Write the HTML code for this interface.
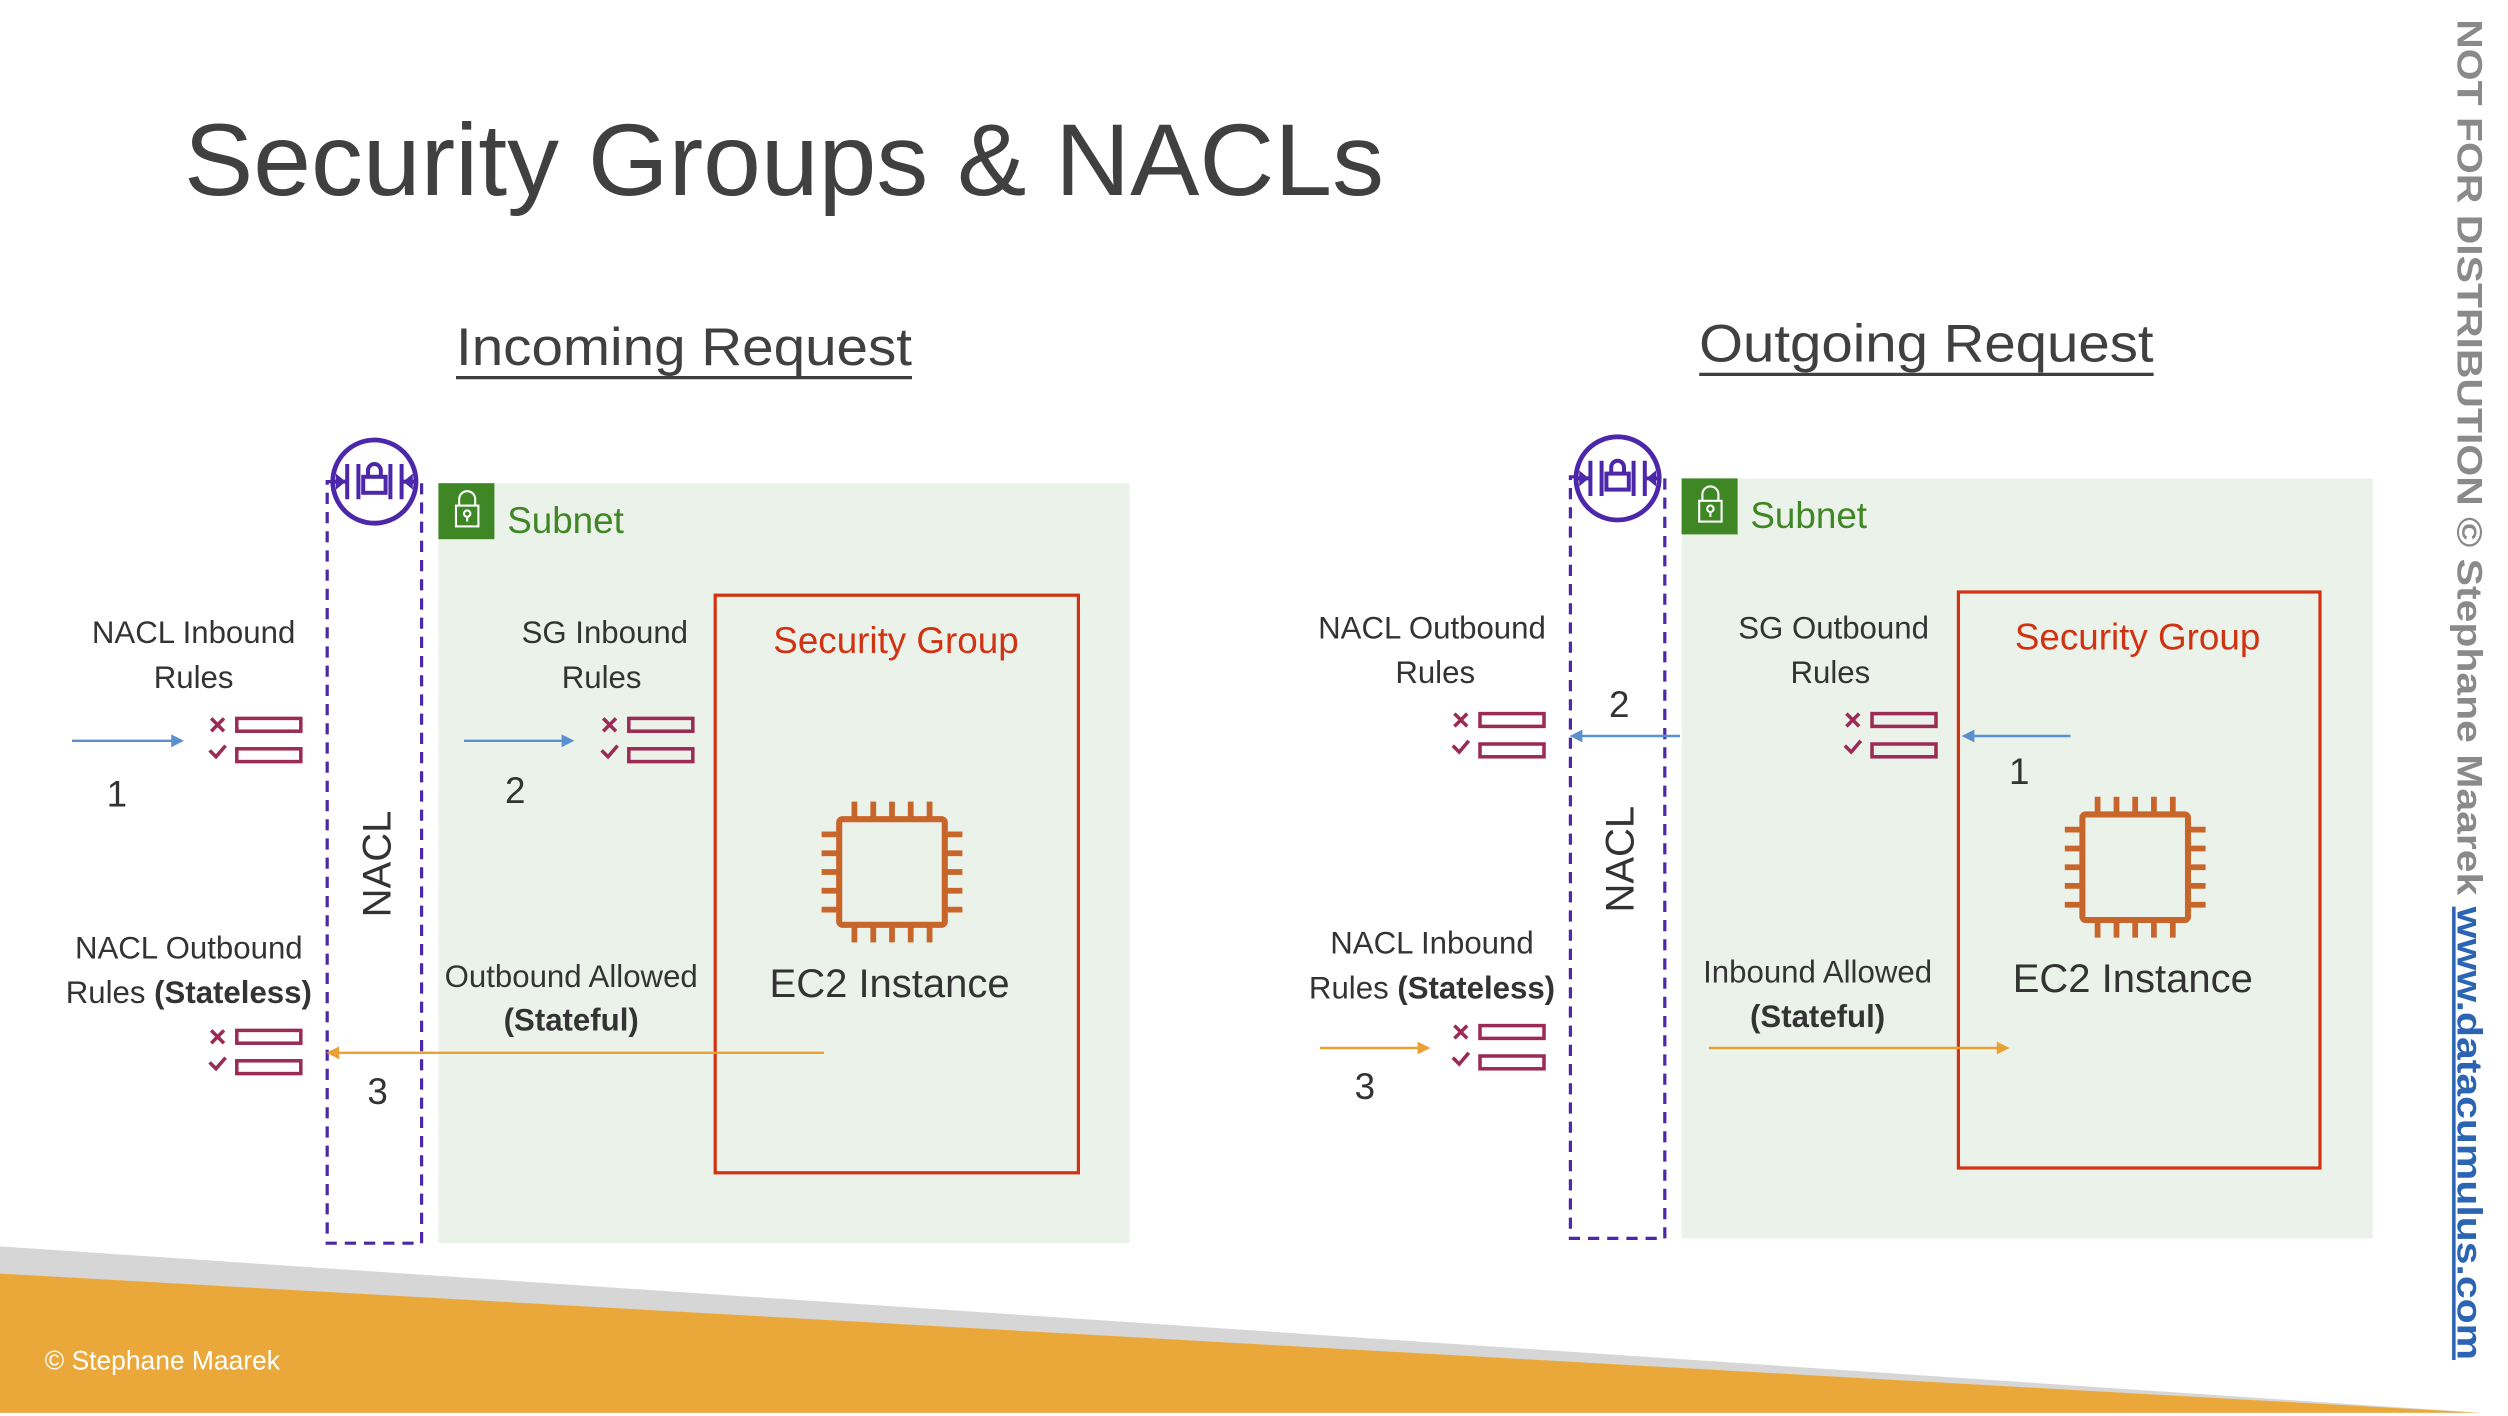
<!DOCTYPE html>
<html><head><meta charset="utf-8"><style>
html,body{margin:0;padding:0;background:#fff;}
svg{display:block;}
text{font-family:"Liberation Sans","DejaVu Sans",sans-serif;}
</style></head><body>
<svg width="2508" height="1416" viewBox="0 0 1567.5 885" xmlns="http://www.w3.org/2000/svg">
<defs>
<g id="chip" fill="none" stroke="#c7652a">
<rect x="-33" y="-33" width="66" height="66" rx="2" stroke-width="3.8"/>
<g stroke-width="3.6">
<path d="M-23.5,-33V-44M-11.7,-33V-44M0,-33V-44M11.7,-33V-44M23.5,-33V-44"/>
<path d="M-23.5,33V44M-11.7,33V44M0,33V44M11.7,33V44M23.5,33V44"/>
<path d="M-33,-23.5H-44M-33,-11.7H-44M-33,0H-44M-33,11.7H-44M-33,23.5H-44"/>
<path d="M33,-23.5H44M33,-11.7H44M33,0H44M33,11.7H44M33,23.5H44"/>
</g></g>
<g id="rules" stroke="#9b2b55" fill="none" stroke-width="2.2">
<path d="M-4,-4L4,4M4,-4L-4,4"/>
<path d="M-5,16L-1,20L5,13"/>
<rect x="12" y="-4" width="40" height="8"/>
<rect x="12" y="15" width="40" height="8"/>
</g>
<g id="naclicon">
<circle r="26" fill="#fff" stroke="#4d27aa" stroke-width="3"/>
<g stroke="#4d27aa" stroke-width="2.5" fill="none">
<path d="M-17,-11V11M17,-11V11M-10,-11V11M10,-11V11"/>
<rect x="-7" y="-3" width="14" height="10"/>
<path d="M-4,-3V-7A4,4 0 0 1 4,-7V-3"/>
<path d="M-26,0H-17M17,0H26"/>
</g>
<path d="M-24,-5L-18,0L-24,5Z M24,-5L18,0L24,5Z" fill="#4d27aa"/>
</g>
<g id="lock">
<rect width="35" height="35" fill="#3f8624"/>
<g stroke="#fff" stroke-width="1.3" fill="none">
<rect x="11" y="14" width="14" height="13"/>
<path d="M13,14V10A5,5 0 0 1 23,10V14"/>
<circle cx="18" cy="19" r="2"/><path d="M18,21V24"/>
</g></g>
</defs>

<text x="115" y="122" font-size="64" fill="#404040" textLength="750" lengthAdjust="spacingAndGlyphs">Security Groups &amp; NACLs</text>

<text x="285" y="228" font-size="33" fill="#404040" textLength="285" lengthAdjust="spacingAndGlyphs">Incoming Request</text>
<line x1="285" y1="236" x2="570" y2="236" stroke="#404040" stroke-width="2"/>
<text x="1062" y="226" font-size="33" fill="#404040" textLength="284" lengthAdjust="spacingAndGlyphs">Outgoing Request</text>
<line x1="1062" y1="234" x2="1346" y2="234" stroke="#404040" stroke-width="2"/>

<!-- backgrounds -->
<rect x="274" y="302" width="432" height="475" fill="#ebf2ea"/>
<rect x="1051" y="299" width="432" height="475" fill="#ebf2ea"/>

<!-- LEFT -->
<use href="#lock" x="274" y="302"/>
<text x="317" y="333" font-size="23" fill="#3f8624">Subnet</text>
<rect x="204.5" y="301" width="59" height="476" fill="none" stroke="#4d27aa" stroke-width="2" stroke-dasharray="7,5"/>
<use href="#naclicon" x="234" y="301"/>
<text transform="translate(244,540) rotate(-90)" text-anchor="middle" font-size="25" fill="#333">NACL</text>
<rect x="447" y="372" width="227" height="361" fill="none" stroke="#d13212" stroke-width="2"/>
<text x="560" y="408" font-size="23" fill="#d13212" text-anchor="middle">Security Group</text>
<use href="#chip" x="557.5" y="545"/>
<text x="556" y="623" font-size="25" fill="#333" text-anchor="middle">EC2 Instance</text>

<!-- RIGHT -->
<use href="#lock" x="1051" y="299"/>
<text x="1094" y="330" font-size="23" fill="#3f8624">Subnet</text>
<rect x="981.5" y="298" width="59" height="476" fill="none" stroke="#4d27aa" stroke-width="2" stroke-dasharray="7,5"/>
<use href="#naclicon" x="1011" y="299"/>
<text transform="translate(1021,537) rotate(-90)" text-anchor="middle" font-size="25" fill="#333">NACL</text>
<rect x="1224" y="370" width="226" height="360" fill="none" stroke="#d13212" stroke-width="2"/>
<text x="1336" y="406" font-size="23" fill="#d13212" text-anchor="middle">Security Group</text>
<use href="#chip" x="1334.5" y="542"/>
<text x="1333" y="620" font-size="25" fill="#333" text-anchor="middle">EC2 Instance</text>

<g font-size="19.5" fill="#333" text-anchor="middle">
<text x="121" y="402">NACL Inbound</text><text x="121" y="430">Rules</text>
<text x="378" y="402">SG Inbound</text><text x="376" y="430">Rules</text>
<text x="118" y="599">NACL Outbound</text><text x="118" y="627">Rules <tspan font-weight="bold">(Stateless)</tspan></text>
<text x="357" y="617">Outbound Allowed</text><text x="357" y="644" font-weight="bold">(Stateful)</text>
<text x="895" y="399">NACL Outbound</text><text x="897" y="427">Rules</text>
<text x="1146" y="399">SG Outbound</text><text x="1144" y="427">Rules</text>
<text x="895" y="596">NACL Inbound</text><text x="895" y="624">Rules <tspan font-weight="bold">(Stateless)</tspan></text>
<text x="1136" y="614">Inbound Allowed</text><text x="1136" y="642" font-weight="bold">(Stateful)</text>
</g>
<g font-size="23" fill="#333" text-anchor="middle">
<text x="73" y="504">1</text><text x="322" y="502">2</text><text x="236" y="690">3</text>
<text x="1262" y="490">1</text><text x="1012" y="448">2</text><text x="853" y="687">3</text>
</g>
<use href="#rules" x="136" y="453"/>
<use href="#rules" x="381" y="453"/>
<use href="#rules" x="136" y="648"/>
<use href="#rules" x="913" y="450"/>
<use href="#rules" x="1158" y="450"/>
<use href="#rules" x="913" y="645"/>

<g stroke-width="1.5">
<line x1="45" y1="463" x2="108" y2="463" stroke="#5a8fd0"/>
<line x1="290" y1="463" x2="352" y2="463" stroke="#5a8fd0"/>
<line x1="515" y1="658" x2="211" y2="658" stroke="#eba033"/>
<line x1="1050" y1="460" x2="988" y2="460" stroke="#5a8fd0"/>
<line x1="1294" y1="460" x2="1233" y2="460" stroke="#5a8fd0"/>
<line x1="825" y1="655" x2="887" y2="655" stroke="#eba033"/>
<line x1="1068" y1="655" x2="1249" y2="655" stroke="#eba033"/>
</g>
<g>
<path d="M115,463l-8,-4v8z" fill="#5a8fd0"/>
<path d="M359,463l-8,-4v8z" fill="#5a8fd0"/>
<path d="M204,658l8,-4v8z" fill="#eba033"/>
<path d="M981,460l8,-4v8z" fill="#5a8fd0"/>
<path d="M1226,460l8,-4v8z" fill="#5a8fd0"/>
<path d="M894,655l-8,-4v8z" fill="#eba033"/>
<path d="M1256,655l-8,-4v8z" fill="#eba033"/>
</g>

<!-- footer -->
<polygon points="0,779 1550,883 0,883" fill="#d6d6d6"/>
<polygon points="0,796 1550,883 0,883" fill="#eba83a"/>
<text x="28" y="856" font-size="16.5" fill="#fff">© Stephane Maarek</text>

<!-- side watermark -->
<text transform="translate(1536,12) rotate(90)" font-size="22" font-weight="bold" fill="#8a8a8a" textLength="838" lengthAdjust="spacingAndGlyphs">NOT FOR DISTRIBUTION © Stephane Maarek <tspan fill="#2c64b4" text-decoration="underline">www.datacumulus.com</tspan></text>
</svg>
</body></html>
